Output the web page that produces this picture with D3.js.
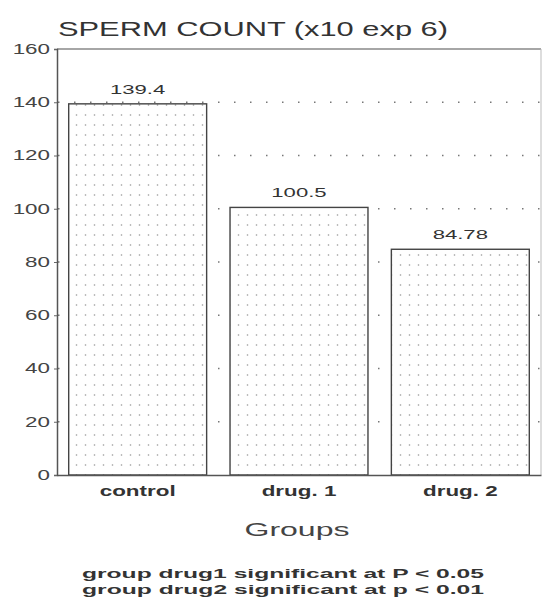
<!DOCTYPE html>
<html>
<head>
<meta charset="utf-8">
<script src="https://cdn.jsdelivr.net/npm/d3@7"></script>
<style>
  body { margin: 0; background: #fff; }
  text { font-family: "Liberation Sans", Arial, sans-serif; }
</style>
</head>
<body>
<div id="chart"></div>
<script>
var groups = ["control", "drug. 1", "drug. 2"];
var counts = [139.4, 100.5, 84.78];
var countLabels = ["139.4", "100.5", "84.78"];
var yTicks = [0, 20, 40, 60, 80, 100, 120, 140, 160];
var notes = ["group drug1 significant at P < 0.05", "group drug2 significant at p < 0.01"];

var svgWidth = 542, svgHeight = 599;
var plotLeft = 57, plotRight = 541, plotTop = 49, plotBottom = 475;

var svg = d3.select("#chart").append("svg")
    .attr("width", svgWidth)
    .attr("height", svgHeight);

// the old printout uses a wide font, so stretch each text sideways
function stretch(sel, factor) {
    sel.each(function() {
        var w = this.getComputedTextLength();
        d3.select(this)
            .attr("textLength", w * factor)
            .attr("lengthAdjust", "spacingAndGlyphs");
    });
}

// dotted fill for the bars
var pattern = svg.append("defs").append("pattern")
    .attr("id", "dots")
    .attr("patternUnits", "userSpaceOnUse")
    .attr("width", 9)
    .attr("height", 10);
pattern.append("rect").attr("width", 9).attr("height", 10).style("fill", "#fff");
pattern.append("circle").attr("cx", 4.5).attr("cy", 5).attr("r", 0.8).style("fill", "#999");

var x = d3.scaleBand()
    .domain(groups)
    .range([plotLeft, plotRight])
    .paddingInner(0.145)
    .paddingOuter(0.0725);

var y = d3.scaleLinear()
    .domain([0, 160])
    .range([plotBottom, plotTop]);

// dotted grid lines
svg.append("g")
    .selectAll("line")
    .data(yTicks.filter(function(d) { return d > 0 && d < 160; }))
    .enter().append("line")
    .attr("x1", plotLeft)
    .attr("x2", plotRight)
    .attr("y1", function(d) { return y(d); })
    .attr("y2", function(d) { return y(d); })
    .style("stroke", "#777")
    .style("stroke-width", 1.3)
    .style("stroke-dasharray", "1.5 14.5")
    .style("stroke-dashoffset", -1);

// frame: top and right
svg.append("line")
    .attr("x1", plotLeft).attr("x2", plotRight)
    .attr("y1", y(160)).attr("y2", y(160))
    .style("stroke", "#888").style("stroke-width", 1.3);
svg.append("line")
    .attr("x1", plotRight).attr("x2", plotRight)
    .attr("y1", y(160)).attr("y2", y(0))
    .style("stroke", "#bbb").style("stroke-width", 1);

// bars
svg.append("g")
    .selectAll("rect")
    .data(counts)
    .enter().append("rect")
    .attr("x", function(d, i) { return x(groups[i]); })
    .attr("y", function(d) { return y(d); })
    .attr("width", x.bandwidth())
    .attr("height", function(d) { return y(0) - y(d); })
    .style("fill", "url(#dots)")
    .style("stroke", "#444")
    .style("stroke-width", 1.4);

// value labels
var valueText = svg.append("g")
    .selectAll("text")
    .data(countLabels)
    .enter().append("text")
    .attr("x", function(d, i) { return x(groups[i]) + x.bandwidth() / 2; })
    .attr("y", function(d, i) { return y(counts[i]) - 10; })
    .attr("text-anchor", "middle")
    .style("font-size", "13px")
    .style("fill", "#333")
    .text(function(d) { return d; });
stretch(valueText, 1.7);

// y axis
var yAxis = svg.append("g")
    .attr("transform", "translate(" + plotLeft + ",0)")
    .call(d3.axisLeft(y).tickValues(yTicks).tickSize(3).tickPadding(4));
yAxis.select(".domain").style("stroke", "#555").style("stroke-width", 1.5);
yAxis.selectAll(".tick line").style("stroke", "#666");
yAxis.selectAll(".tick text")
    .style("font-size", "14px")
    .style("fill", "#444")
    .style("font-family", "'Liberation Sans', Arial, sans-serif");
stretch(yAxis.selectAll(".tick text"), 1.6);

// x axis
var xAxis = svg.append("g")
    .attr("transform", "translate(0," + plotBottom + ")")
    .call(d3.axisBottom(x).tickSize(0).tickPadding(11));
xAxis.select(".domain").style("stroke", "#555").style("stroke-width", 1.6);
xAxis.selectAll(".tick text")
    .style("font-size", "14px")
    .style("font-weight", "bold")
    .style("fill", "#333")
    .style("font-family", "'Liberation Sans', Arial, sans-serif");
stretch(xAxis.selectAll(".tick text"), 1.6);

// title
svg.append("text")
    .attr("x", 58)
    .attr("y", 36)
    .attr("textLength", 390)
    .attr("lengthAdjust", "spacingAndGlyphs")
    .style("font-size", "20px")
    .style("fill", "#333")
    .text("SPERM COUNT (x10 exp 6)");

// x axis title
svg.append("text")
    .attr("x", 297)
    .attr("y", 536)
    .attr("text-anchor", "middle")
    .attr("textLength", 105)
    .attr("lengthAdjust", "spacingAndGlyphs")
    .style("font-size", "18px")
    .style("fill", "#444")
    .text("Groups");

// footnotes
svg.append("g")
    .selectAll("text")
    .data(notes)
    .enter().append("text")
    .attr("x", 283)
    .attr("y", function(d, i) { return 578 + i * 16; })
    .attr("text-anchor", "middle")
    .attr("textLength", 402)
    .attr("lengthAdjust", "spacingAndGlyphs")
    .style("font-size", "13px")
    .style("font-weight", "bold")
    .style("fill", "#333")
    .text(function(d) { return d; });
</script>
</body>
</html>
